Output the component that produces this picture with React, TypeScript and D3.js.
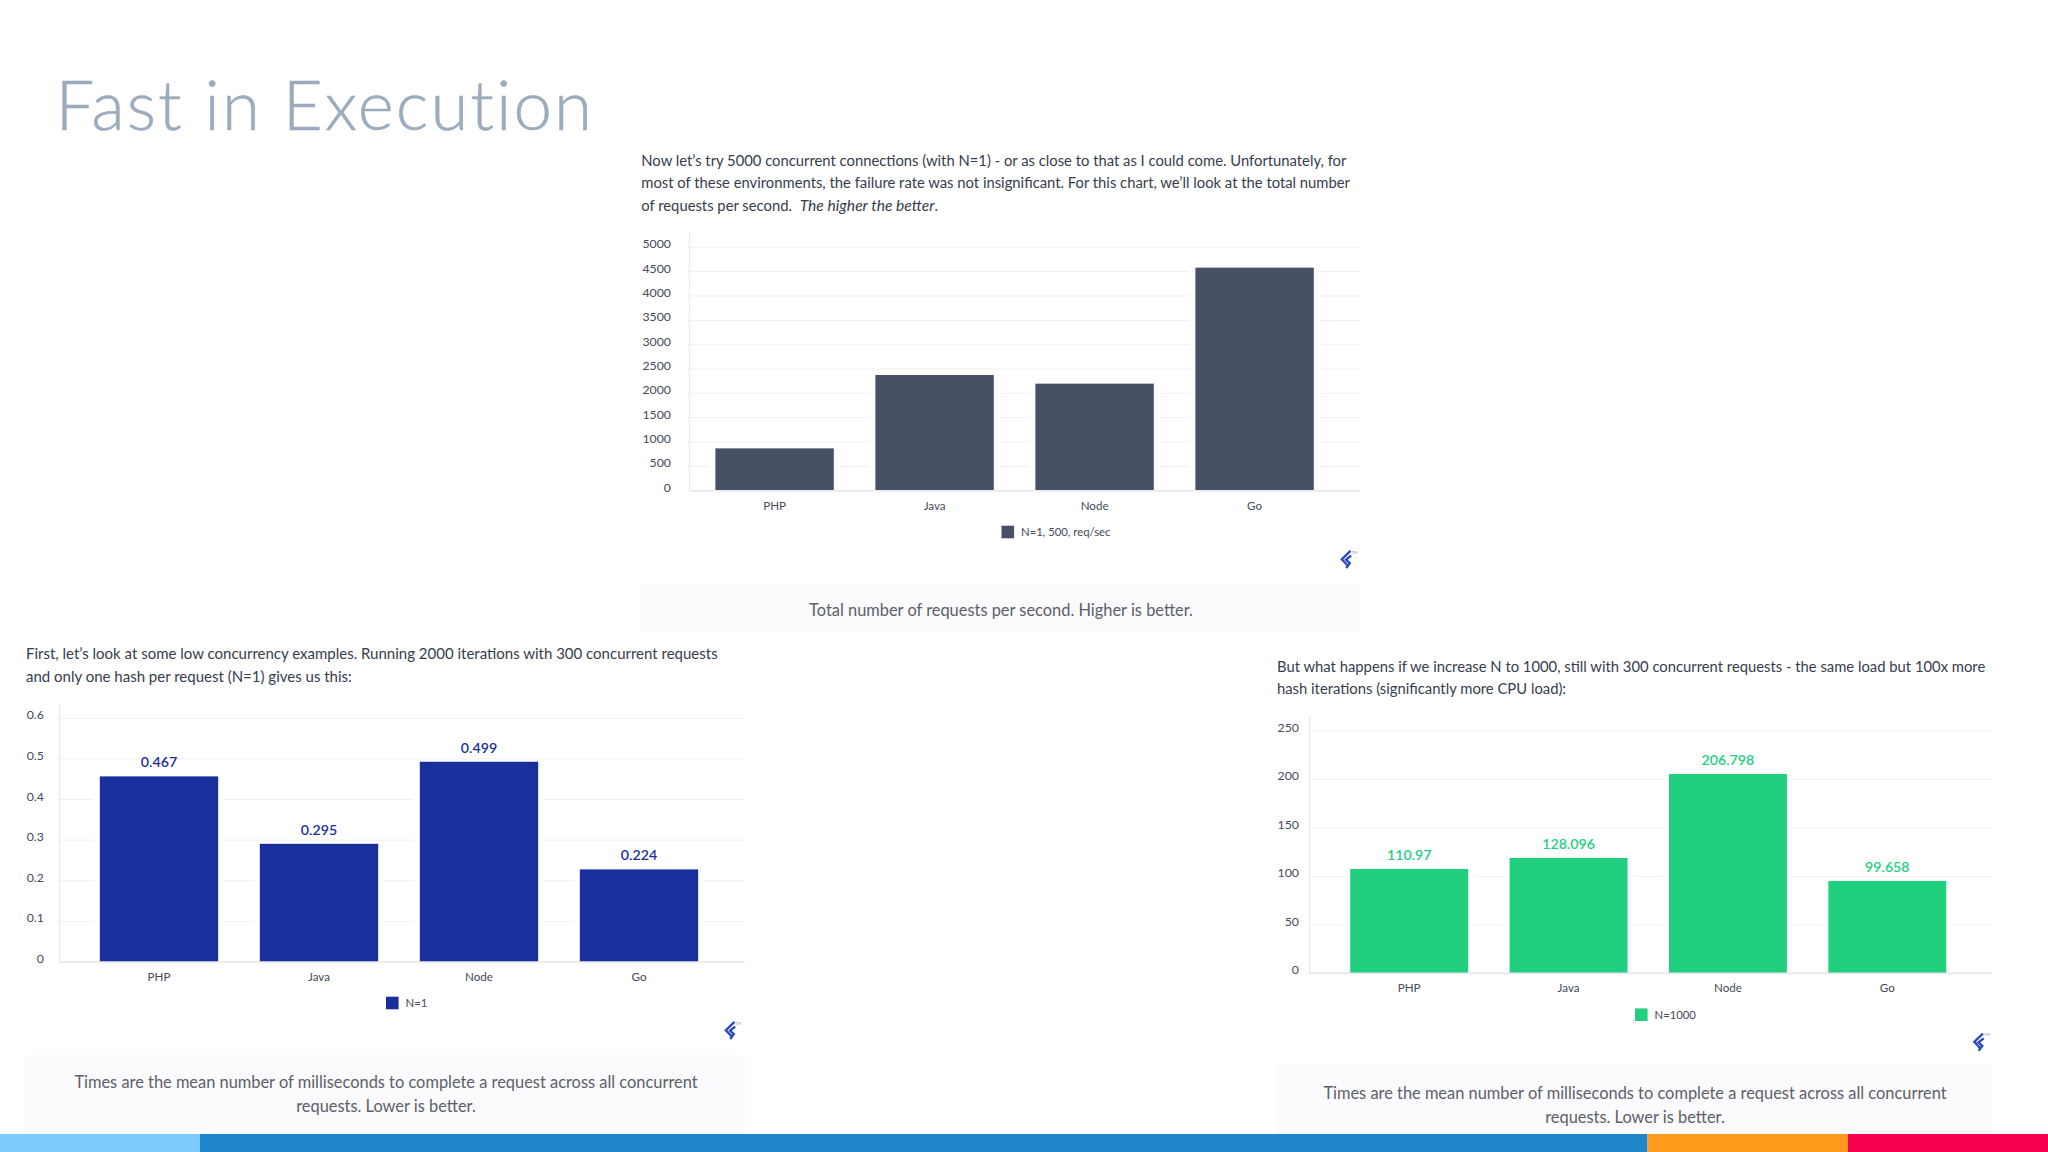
import React, { useEffect, useRef } from 'react';
import * as d3 from 'd3';

// Values. Bars and printed labels disagree a little in the source, so both are kept.
const languages = ['PHP', 'Java', 'Node', 'Go'];

const reqPerSecValues = [870, 2377, 2199, 4582];
const reqPerSecTicks = [0, 500, 1000, 1500, 2000, 2500, 3000, 3500, 4000, 4500, 5000];

const n1Values = [0.457, 0.291, 0.493, 0.228];
const n1Labels = ['0.467', '0.295', '0.499', '0.224'];
const n1Ticks = [0, 0.1, 0.2, 0.3, 0.4, 0.5, 0.6];

const n1000Values = [107.6, 119, 205.6, 95.3];
const n1000Labels = ['110.97', '128.096', '206.798', '99.658'];
const n1000Ticks = [0, 50, 100, 150, 200, 250];

const captionTimes = [
  'Times are the mean number of milliseconds to complete a request across all concurrent',
  'requests. Lower is better.',
];
const captionTotal = ['Total number of requests per second. Higher is better.'];

const stripes = [
  { from: 0, to: 200, color: '#7fcbfd' },
  { from: 200, to: 1647.5, color: '#1f86c9' },
  { from: 1647.5, to: 1848, color: '#fe9a1c' },
  { from: 1848, to: 2048, color: '#f6024f' },
];

const FONT = 'Lato, "Open Sans", sans-serif';
const TEXT_COLOR = '#363d4c';
const TICK_COLOR = '#444a57';
const GRID_COLOR = '#f0f0f4';
const AXIS_COLOR = '#e6e6ec';

interface PanelProps {
  values: number[];
  labels?: string[];
  ticks: number[];
  legend: string;
  color: string;
  axisX: number;
  axisRight: number;
  axisTop: number;
  baseline: number;
  topY: number;
  bandRange: [number, number];
  tickRight: number;
  xLabelY: number;
  legendX: number;
  legendY: number;
  logoX: number;
  logoY: number;
}

function Logo({ x, y }: { x: number; y: number }) {
  // Toptal mark, drawn by hand as a folded ribbon
  return (
    <g transform={`translate(${x},${y})`}>
      <path
        d="M10.5 0.8 L1.8 9.2 L8 15.8 M11.2 5.6 L6 9.6 L9.8 13.2 L6.2 18"
        fill="none"
        stroke="#2647c0"
        strokeWidth={2.3}
      />
      <text x={11.5} y={3.5} fontSize={3.8} fill="#8890a8" fontFamily={FONT}>
        TM
      </text>
    </g>
  );
}

function Panel(props: PanelProps) {
  const { values, labels, ticks, legend, color, axisX, axisRight, axisTop, baseline, topY, bandRange } = props;
  const axisRef = useRef<SVGGElement>(null);

  const x = d3.scaleBand<string>().domain(languages).range(bandRange).paddingInner(0.26).paddingOuter(0.13);
  const y = d3.scaleLinear().domain([0, d3.max(ticks) as number]).range([baseline, topY]);

  useEffect(() => {
    if (!axisRef.current) return;
    const g = d3.select(axisRef.current);
    g.selectAll('*').remove();
    const yAxis = d3.axisLeft(y).tickValues(ticks).tickSize(0).tickFormat(d => String(d));
    const yGroup = g.append('g').attr('transform', `translate(${props.tickRight},0)`).call(yAxis);
    yGroup.select('.domain').remove();
    yGroup
      .selectAll('text')
      .attr('x', 0)
      .attr('dy', '0.32em')
      .attr('transform', 'translate(0,-3.4)')
      .attr('fill', TICK_COLOR)
      .attr('font-size', 12.3)
      .attr('font-family', FONT);
  }, []);

  return (
    <g>
      {ticks
        .filter(t => t !== 0)
        .map(t => (
          <line key={t} x1={axisX - 2} x2={axisRight} y1={y(t)} y2={y(t)} stroke={GRID_COLOR} strokeWidth={1} />
        ))}
      <line x1={axisX} x2={axisX} y1={axisTop} y2={baseline} stroke={AXIS_COLOR} />
      {/* white halo around the bars cuts the gridlines like in the source */}
      {languages.map((lang, i) => (
        <rect
          key={lang}
          x={x(lang)! - 6}
          y={y(values[i])}
          width={x.bandwidth() + 12}
          height={baseline - y(values[i])}
          fill="#fff"
        />
      ))}
      {languages.map((lang, i) => (
        <rect
          key={lang}
          x={x(lang)}
          y={y(values[i])}
          width={x.bandwidth()}
          height={baseline - y(values[i])}
          fill={color}
        />
      ))}
      <line x1={axisX} x2={axisRight} y1={baseline} y2={baseline} stroke={AXIS_COLOR} strokeWidth={1.5} />
      {labels &&
        languages.map((lang, i) => (
          <text
            key={lang}
            x={x(lang)! + x.bandwidth() / 2}
            y={y(values[i]) - 14}
            dy="0.35em"
            textAnchor="middle"
            fill={color}
            fontFamily={FONT}
            fontSize={14.2}
            fontWeight={600}
          >
            {labels[i]}
          </text>
        ))}
      <g ref={axisRef} />
      {languages.map(lang => (
        <text
          key={lang}
          x={x(lang)! + x.bandwidth() / 2}
          y={props.xLabelY}
          dy="0.35em"
          textAnchor="middle"
          fill={TICK_COLOR}
          fontFamily={FONT}
          fontSize={11.6}
        >
          {lang}
        </text>
      ))}
      <rect x={props.legendX} y={props.legendY - 6.3} width={12.6} height={12.6} fill={color} />
      <text
        x={props.legendX + 19.5}
        y={props.legendY}
        dy="0.35em"
        fill={TICK_COLOR}
        fontFamily={FONT}
        fontSize={11.3}
      >
        {legend}
      </text>
      <Logo x={props.logoX} y={props.logoY} />
    </g>
  );
}

function Caption({ x, y, w, h, cx, lines, firstY }: { x: number; y: number; w: number; h: number; cx: number; lines: string[]; firstY: number }) {
  return (
    <g>
      <rect x={x} y={y} width={w} height={h} rx={4} fill="#fbfafc" />
      {lines.map((line, i) => (
        <text
          key={line}
          x={cx}
          y={firstY + i * 24.3}
          dy="0.35em"
          textAnchor="middle"
          fill="#5c6068"
          fontFamily={FONT}
          fontSize={16.4}
        >
          {line}
        </text>
      ))}
    </g>
  );
}

function Para({ x, y, size = 14.8, children }: { x: number; y: number; size?: number; children: React.ReactNode }) {
  return (
    <text x={x} y={y} dy="0.35em" fill={TEXT_COLOR} fontFamily={FONT} fontSize={size}>
      {children}
    </text>
  );
}

export default function App() {
  return (
    <svg
      width={2048}
      height={1152}
      viewBox="0 0 2048 1152"
      style={{ position: 'absolute', left: 0, top: 0, background: '#fff' }}
    >
      <text
        x={55.5}
        y={130}
        fill="#9aacbd"
        stroke="#9aacbd"
        strokeWidth={0.5}
        fontFamily={FONT}
        fontWeight={300}
        fontSize={69}
        letterSpacing={2.05}
      >
        Fast in Execution
      </text>

      <Para x={641.3} y={160.7}>
        Now let’s try 5000 concurrent connections (with N=1) - or as close to that as I could come. Unfortunately, for
      </Para>
      <Para x={641.3} y={183.3}>
        most of these environments, the failure rate was not insignificant. For this chart, we’ll look at the total number
      </Para>
      <Para x={641.3} y={206}>
        of requests per second. <tspan fontStyle="italic" fontSize={15.6} dx={4}>The higher the better</tspan>.
      </Para>
      <Panel
        values={reqPerSecValues}
        ticks={reqPerSecTicks}
        legend="N=1, 500, req/sec"
        color="#465166"
        axisX={689.3}
        axisRight={1360}
        axisTop={231.7}
        baseline={490.7}
        topY={247.3}
        bandRange={[694.6, 1334.6]}
        tickRight={671}
        xLabelY={505.7}
        legendX={1001.5}
        legendY={532}
        logoX={1340}
        logoY={550}
      />
      <Caption x={640} y={584} w={720} h={48} cx={1001} firstY={610.7} lines={captionTotal} />

      <Para x={26} y={654} size={15}>
        First, let’s look at some low concurrency examples. Running 2000 iterations with 300 concurrent requests
      </Para>
      <Para x={26} y={676.7} size={15}>
        and only one hash per request (N=1) gives us this:
      </Para>
      <Panel
        values={n1Values}
        labels={n1Labels}
        ticks={n1Ticks}
        legend="N=1"
        color="#192f9b"
        axisX={59.7}
        axisRight={744.7}
        axisTop={704}
        baseline={962}
        topY={718.3}
        bandRange={[79, 719]}
        tickRight={43.8}
        xLabelY={977}
        legendX={386}
        legendY={1003}
        logoX={724}
        logoY={1021}
      />
      <Caption x={25} y={1055} w={720} h={85} cx={386} firstY={1082} lines={captionTimes} />

      <Para x={1277} y={667}>
        But what happens if we increase N to 1000, still with 300 concurrent requests - the same load but 100x more
      </Para>
      <Para x={1277} y={689.3}>
        hash iterations (significantly more CPU load):
      </Para>
      <Panel
        values={n1000Values}
        labels={n1000Labels}
        ticks={n1000Ticks}
        legend="N=1000"
        color="#21d07f"
        axisX={1309.7}
        axisRight={1992}
        axisTop={716}
        baseline={973.3}
        topY={731}
        bandRange={[1329.5, 1967]}
        tickRight={1299}
        xLabelY={988.3}
        legendX={1635}
        legendY={1014.7}
        logoX={1972.5}
        logoY={1032.7}
      />
      <Caption x={1276} y={1064} w={716} h={76} cx={1635} firstY={1093} lines={captionTimes} />

      {stripes.map(s => (
        <rect key={s.color} x={s.from} y={1134} width={s.to - s.from} height={18} fill={s.color} />
      ))}
    </svg>
  );
}
